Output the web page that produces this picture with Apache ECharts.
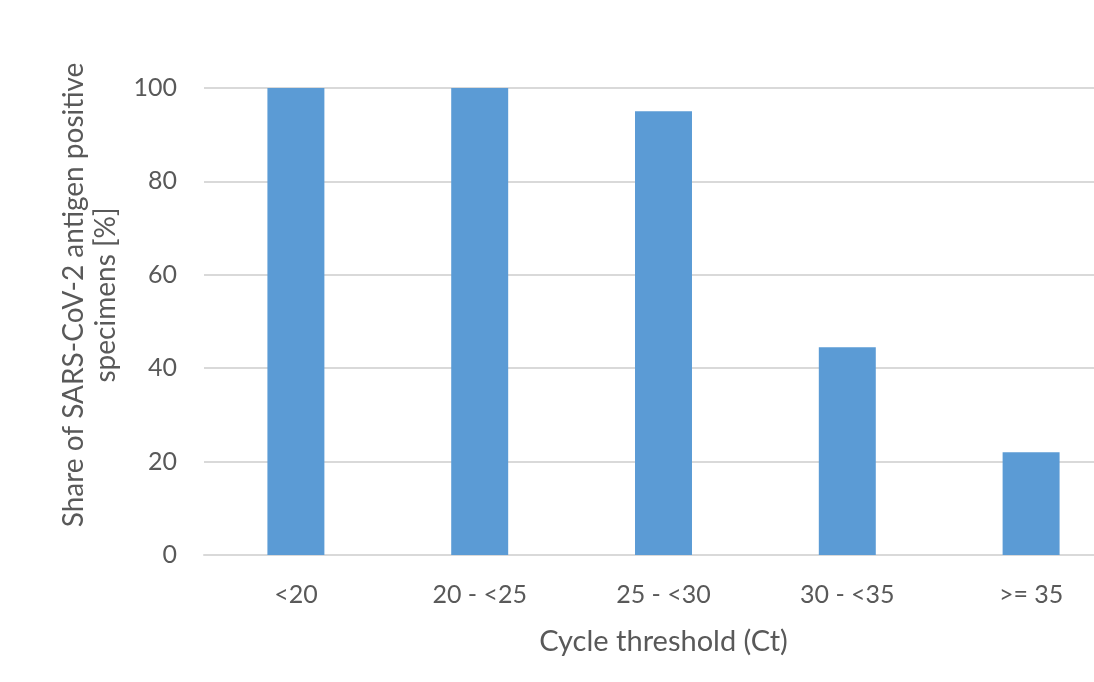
<!DOCTYPE html>
<html>
<head>
<meta charset="utf-8">
<script src="https://cdn.jsdelivr.net/npm/echarts@6/dist/echarts.min.js"></script>
<style>
html,body{margin:0;padding:0;background:#fff;overflow:hidden;width:1094px;height:682px;}
/* the plot area runs past the right edge of the page, so the canvas is wider */
#chart{width:1130px;height:682px;}
</style>
</head>
<body>
<div id="chart"></div>
<script>
// Ct bins and share of antigen-positive specimens per bin
const categories = ['<20', '20 - <25', '25 - <30', '30 - <35', '>= 35'];
const shareValues = [100, 100, 95, 44.5, 22];
const yTicks = { min: 0, max: 100, interval: 20 };

const FONT = 'Lato, "Open Sans", sans-serif';
const TEXT = '#595959';

const chart = echarts.init(document.getElementById('chart'), null, { renderer: 'canvas' });
chart.setOption({
  backgroundColor: '#ffffff',
  animation: false,
  grid: { left: 204, right: 7, top: 88, bottom: 127, containLabel: false },
  xAxis: {
    type: 'category',
    data: categories,
    name: 'Cycle threshold (Ct)',
    nameLocation: 'middle',
    nameGap: 72,
    nameTextStyle: { fontFamily: FONT, fontSize: 29, color: TEXT },
    axisLine: { lineStyle: { color: '#d9d9d9', width: 2 } },
    axisTick: { show: false },
    axisLabel: { fontFamily: FONT, fontSize: 25, color: TEXT, margin: 27 }
  },
  yAxis: {
    type: 'value',
    min: yTicks.min,
    max: yTicks.max,
    interval: yTicks.interval,
    axisLine: { show: false },
    axisTick: { show: false },
    splitLine: { lineStyle: { color: '#d9d9d9', width: 2 } },
    axisLabel: { fontFamily: FONT, fontSize: 25, color: TEXT, margin: 27 }
  },
  graphic: [{
    type: 'text',
    x: 90,
    y: 295,
    rotation: Math.PI / 2,
    style: {
      text: 'Share of SARS-CoV-2 antigen positive\nspecimens [%]',
      fontFamily: FONT,
      fontSize: 28,
      lineHeight: 32,
      fill: TEXT,
      align: 'center',
      verticalAlign: 'middle'
    }
  }],
  series: [{
    type: 'bar',
    data: shareValues,
    barWidth: '31%',
    itemStyle: { color: '#5b9bd5' }
  }]
});
</script>
</body>
</html>
